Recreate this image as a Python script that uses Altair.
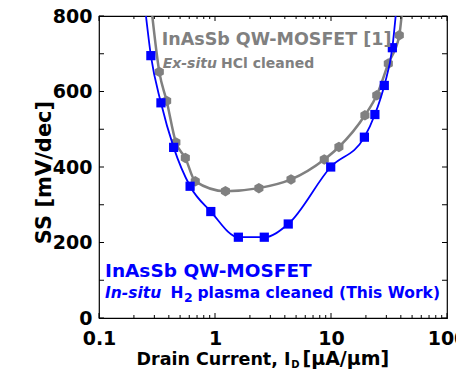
import altair as alt
import pandas as pd

# ---- data ----
blue_id = [0.28, 0.342, 0.44, 0.61, 0.92, 1.59, 2.66, 4.28, 9.94, 19.4, 23.9, 28.8, 33.8]
blue_ss = [695, 570, 452, 349, 282, 214, 214, 249, 400, 479, 539, 616, 716]
gray_id = [0.331, 0.383, 0.46, 0.555, 0.676, 1.23, 2.39, 4.52, 8.75, 11.7, 19.6, 24.8, 31.2, 38.8]
gray_ss = [652, 575, 465, 424, 362, 336, 344, 367, 420, 453, 537, 590, 674, 749]
# where each fitted curve leaves the top of the frame
blue_exit_id = [0.254, 36.1]
gray_exit_id = [0.288, 40.6]
exit_ss = [800, 800]

x_major = [0.1, 1, 10, 100]
x_minor = [0.2, 0.3, 0.4, 0.5, 0.6, 0.7, 0.8, 0.9,
           2, 3, 4, 5, 6, 7, 8, 9,
           20, 30, 40, 50, 60, 70, 80, 90]
y_ticks = [0, 100, 200, 300, 400, 500, 600, 700, 800]
y_labels = [0, 200, 400, 600, 800]

gray_title = "InAsSb QW-MOSFET [1]"
gray_sub_it = "Ex-situ"
gray_sub = "HCl cleaned"
blue_title = "InAsSb QW-MOSFET"
blue_sub_it = "In-situ"
blue_sub_h = "H"
blue_sub_2 = "2"
blue_sub = "plasma cleaned (This Work)"
x_title_a = "Drain Current, I"
x_title_sub = "D"
x_title_b = "[\u03bcA/\u03bcm]"
y_title = "SS [mV/dec]"

# ---- tables ----
blue_pts = pd.DataFrame({"ID": blue_id, "SS": blue_ss})
gray_pts = pd.DataFrame({"ID": gray_id, "SS": gray_ss})
blue_curve = pd.concat([blue_pts, pd.DataFrame({"ID": blue_exit_id, "SS": exit_ss})]).sort_values("ID")
gray_curve = pd.concat([gray_pts, pd.DataFrame({"ID": gray_exit_id, "SS": exit_ss})]).sort_values("ID")

W, H = 348, 302
FONT = "DejaVu Sans"
BLUE = "#0000ff"
GRAY = "#808080"

xs = alt.Scale(type="log", domain=[0.1, 100], nice=False)
ys = alt.Scale(domain=[0, 800], nice=False, zero=False)

x_axis = alt.Axis(values=x_major, format="~g", ticks=False, domain=False, grid=False,
                  labelFont=FONT, labelFontSize=19, labelFontWeight="bold", labelColor="black",
                  labelPadding=11, title=None, labelFlush=False, labelOverlap=False)
y_axis = alt.Axis(values=y_labels, format="d", ticks=False, domain=False, grid=False,
                  labelFont=FONT, labelFontSize=19, labelFontWeight="bold", labelColor="black",
                  labelPadding=7, labelFlush=False, labelOverlap=False,
                  title=y_title, titleFont=FONT, titleFontSize=21, titleFontWeight="bold",
                  titleColor="black", titleAngle=270, titleBaseline="alphabetic",
                  titleAlign="center", titleX=-49, titleY=156)

gray_line = alt.Chart(gray_curve).mark_line(color=GRAY, strokeWidth=2.5, interpolate="monotone", clip=True).encode(
    x=alt.X("ID:Q", scale=xs, axis=x_axis), y=alt.Y("SS:Q", scale=ys, axis=y_axis), order="ID:Q")
gray_mark = alt.Chart(gray_pts).mark_point(
    shape="M0,-1L0.866,-0.5L0.866,0.5L0,1L-0.866,0.5L-0.866,-0.5Z",
    filled=True, opacity=1, color=GRAY, size=110, clip=True).encode(
    x=alt.X("ID:Q", scale=xs), y=alt.Y("SS:Q", scale=ys))
blue_line = alt.Chart(blue_curve).mark_line(color=BLUE, strokeWidth=1.8, interpolate="monotone", clip=True).encode(
    x=alt.X("ID:Q", scale=xs), y=alt.Y("SS:Q", scale=ys), order="ID:Q")
blue_mark = alt.Chart(blue_pts).mark_square(color=BLUE, size=85, opacity=1, clip=True).encode(
    x=alt.X("ID:Q", scale=xs), y=alt.Y("SS:Q", scale=ys))

# inward ticks on all four sides
def xt(vals, y0, y1):
    return alt.Chart(pd.DataFrame({"ID": vals})).mark_rule(color="black", strokeWidth=1).encode(
        x=alt.X("ID:Q", scale=xs), y=alt.value(y0), y2=alt.value(y1))

def yt(vals, x0, x1):
    return alt.Chart(pd.DataFrame({"SS": vals})).mark_rule(color="black", strokeWidth=1).encode(
        y=alt.Y("SS:Q", scale=ys), x=alt.value(x0), x2=alt.value(x1))

ticks = [xt(x_major, H - 5, H), xt(x_minor, H - 3, H), xt(x_major, 0, 5), xt(x_minor, 0, 3),
         yt(y_ticks, 0, 5), yt(y_ticks, W - 5, W)]

def label(text, x, y, size, color, style="normal", align="left"):
    return alt.Chart(pd.DataFrame({"t": [text]})).mark_text(
        align=align, baseline="alphabetic", font=FONT, fontSize=size, fontWeight="bold",
        fontStyle=style, color=color, clip=False).encode(
        x=alt.value(x), y=alt.value(y), text="t:N")

texts = [
    label(gray_title, 62.7, 29, 17.5, GRAY),
    label(gray_sub_it, 63.7, 52.3, 14, GRAY, style="italic"),
    label(gray_sub, 122, 52.3, 14, GRAY),
    label(blue_title, 6, 260.7, 18.5, BLUE),
    label(blue_sub_it, 6, 281.5, 15.5, BLUE, style="italic"),
    label(blue_sub_h, 71.5, 281.5, 15.5, BLUE),
    label(blue_sub_2, 85, 285.5, 12.5, BLUE),
    label(blue_sub, 98.5, 281.5, 15.5, BLUE),
    label(x_title_a, 191.5, 349, 17.5, "black", align="right"),
    label(x_title_sub, 192.3, 351.5, 10, "black"),
    label(x_title_b, 203.5, 349, 19, "black"),
]

# the reference crops the right end of the last tick label
crop = alt.Chart(pd.DataFrame({"k": [0]})).mark_rect(color="white", clip=False).encode(
    x=alt.value(357), x2=alt.value(390), y=alt.value(306), y2=alt.value(334))

chart = alt.layer(gray_line, gray_mark, blue_line, blue_mark, *ticks, *texts, crop).properties(
    width=W, height=H,
    autosize=alt.AutoSizeParams(type="none"),
    padding={"left": 99, "top": 16, "right": 473 - 99 - W, "bottom": 377 - 16 - H},
    background="white",
).configure_view(stroke="black", strokeWidth=1.2)

chart.save("out.html", embed_options={"renderer": "svg", "actions": False})
